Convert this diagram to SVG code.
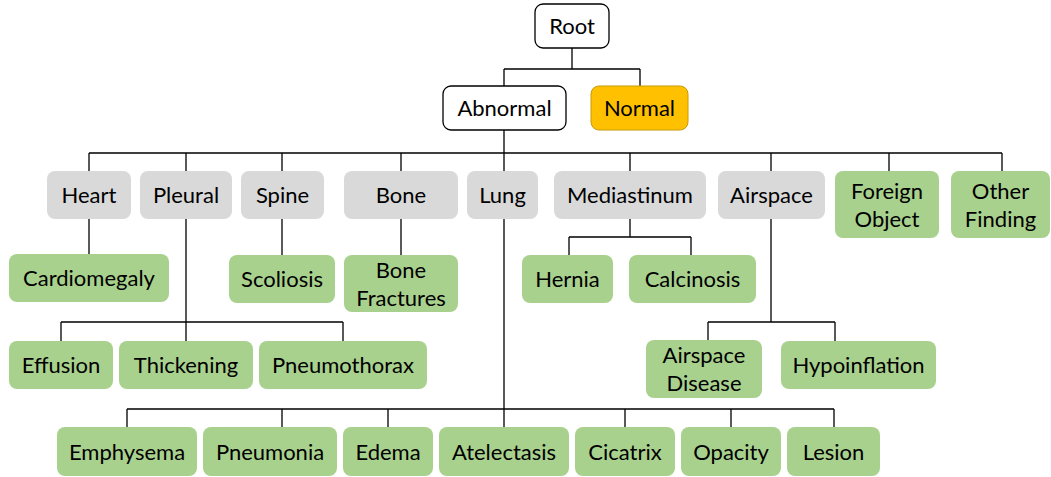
<svg xmlns="http://www.w3.org/2000/svg" width="1051" height="477" viewBox="0 0 1051 477">
<style>
.n rect{rx:8;ry:8}
.w rect{fill:#fff;stroke:#000;stroke-width:1.3}
.y rect{fill:#FFC000;stroke:#C99A06;stroke-width:1}
.g rect{fill:#D9D9D9}
.f rect{fill:#A9D18E}
text{font-family:Lato,"Open Sans","Liberation Sans",sans-serif;font-size:22px;fill:#000;text-anchor:middle}
#connectors path{fill:none;stroke:#000;stroke-width:1.3}
</style>
<rect width="1051" height="477" fill="#fff"/>
<g id="connectors">
<path d="M572 48V69M504 69H640M504 69V86M640 69V86"/>
<path d="M504 130V153M89 153H1002M89 153V171M186 153V171M282 153V171M401 153V171M504 153V171M630 153V171M771 153V171M889 153V171M1002 153V171"/>
<path d="M89 219V254"/>
<path d="M186 219V341M61 322H343M61 322V341M343 322V341"/>
<path d="M282 219V255"/>
<path d="M401 219V255"/>
<path d="M630 219V237M569 237H691M569 237V255M691 237V255"/>
<path d="M771 219V322M708 322H835M708 322V340M835 322V341"/>
<path d="M504 219V427M127 409H834M127 409V427M282 409V427M388 409V427M625 409V427M731 409V427M834 409V427"/>
</g>
<g id="root" class="n w"><rect x="535" y="4" width="74" height="44"/><text x="572" y="34">Root</text></g>
<g id="abnormal" class="n w"><rect x="443" y="86" width="123" height="44"/><text x="504.5" y="116">Abnormal</text></g>
<g id="normal" class="n y"><rect x="591" y="86" width="97" height="44"/><text x="639.5" y="116">Normal</text></g>
<g id="heart" class="n g"><rect x="47" y="171" width="84" height="48"/><text x="89" y="203">Heart</text></g>
<g id="pleural" class="n g"><rect x="140" y="171" width="92" height="48"/><text x="186" y="203">Pleural</text></g>
<g id="spine" class="n g"><rect x="241" y="171" width="83" height="48"/><text x="282.5" y="203">Spine</text></g>
<g id="bone" class="n g"><rect x="344" y="171" width="114" height="48"/><text x="401" y="203">Bone</text></g>
<g id="lung" class="n g"><rect x="467" y="171" width="71" height="48"/><text x="502.5" y="203">Lung</text></g>
<g id="mediastinum" class="n g"><rect x="554" y="171" width="152" height="48"/><text x="630" y="203">Mediastinum</text></g>
<g id="airspace" class="n g"><rect x="718" y="171" width="107" height="48"/><text x="771.5" y="203">Airspace</text></g>
<g id="foreign-object" class="n f"><rect x="835" y="171" width="104" height="67"/><text x="887" y="199">Foreign</text><text x="887" y="227">Object</text></g>
<g id="other-finding" class="n f"><rect x="951" y="171" width="99" height="67"/><text x="1000.5" y="199">Other</text><text x="1000.5" y="227">Finding</text></g>
<g id="cardiomegaly" class="n f"><rect x="9" y="254" width="160" height="48"/><text x="89" y="286">Cardiomegaly</text></g>
<g id="scoliosis" class="n f"><rect x="229" y="255" width="106" height="48"/><text x="282" y="287">Scoliosis</text></g>
<g id="bone-fractures" class="n f"><rect x="344" y="255" width="114" height="57"/><text x="401" y="278">Bone</text><text x="401" y="306">Fractures</text></g>
<g id="hernia" class="n f"><rect x="522" y="255" width="91" height="48"/><text x="567.5" y="287">Hernia</text></g>
<g id="calcinosis" class="n f"><rect x="629" y="255" width="127" height="48"/><text x="692.5" y="287">Calcinosis</text></g>
<g id="effusion" class="n f"><rect x="9" y="341" width="104" height="48"/><text x="61" y="373">Effusion</text></g>
<g id="thickening" class="n f"><rect x="119" y="341" width="134" height="48"/><text x="186" y="373">Thickening</text></g>
<g id="pneumothorax" class="n f"><rect x="259" y="341" width="168" height="48"/><text x="343" y="373">Pneumothorax</text></g>
<g id="airspace-disease" class="n f"><rect x="646" y="340" width="116" height="58"/><text x="704" y="363">Airspace</text><text x="704" y="391">Disease</text></g>
<g id="hypoinflation" class="n f"><rect x="781" y="341" width="155" height="48"/><text x="858.5" y="373">Hypoinflation</text></g>
<g id="emphysema" class="n f"><rect x="57" y="427" width="140" height="49"/><text x="127" y="460">Emphysema</text></g>
<g id="pneumonia" class="n f"><rect x="203" y="427" width="134" height="49"/><text x="270" y="460">Pneumonia</text></g>
<g id="edema" class="n f"><rect x="343" y="427" width="90" height="49"/><text x="388" y="460">Edema</text></g>
<g id="atelectasis" class="n f"><rect x="439" y="427" width="130" height="49"/><text x="504" y="460">Atelectasis</text></g>
<g id="cicatrix" class="n f"><rect x="575" y="427" width="100" height="49"/><text x="625" y="460">Cicatrix</text></g>
<g id="opacity" class="n f"><rect x="681" y="427" width="100" height="49"/><text x="731" y="460">Opacity</text></g>
<g id="lesion" class="n f"><rect x="787" y="427" width="93" height="49"/><text x="833.5" y="460">Lesion</text></g>
</svg>
